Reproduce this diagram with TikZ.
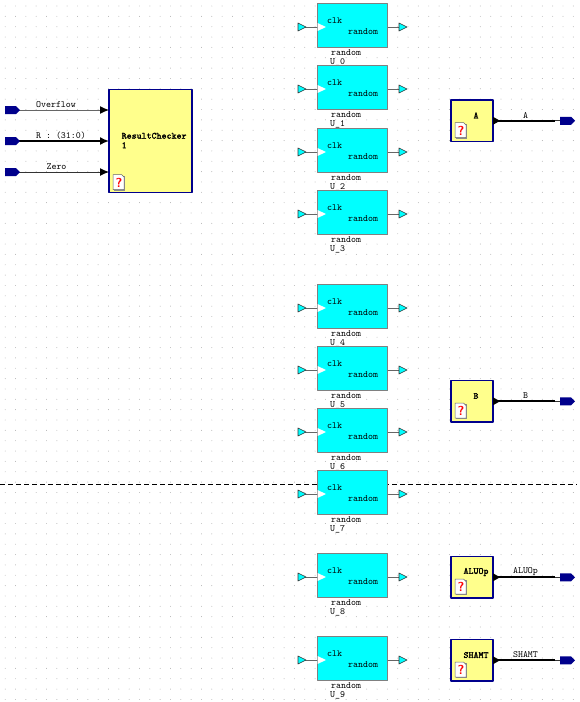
\documentclass[tikz,border=0pt]{standalone}
\usepackage{fontspec}
\newfontfamily\heavymono[FakeBold=1.6]{Latin Modern Mono}
\usetikzlibrary{positioning, arrows.meta}
\definecolor{randcyan}{RGB}{0,255,255}
\definecolor{checkyellow}{RGB}{255,255,140}
\definecolor{portblue}{RGB}{0,0,140}
\definecolor{griddot}{RGB}{175,175,175}
\tikzset{
	randbox/.style={draw=gray, line width=1pt, fill=randcyan, minimum width=70pt, minimum height=44pt, inner sep=0pt, outer sep=0pt},
	genbox/.style={draw=portblue, line width=1.2pt, fill=checkyellow, inner sep=0pt, outer sep=0pt},
	wirelabel/.style={font=\ttfamily\fontsize{9.5}{10}\selectfont, inner sep=0pt},
	boldlabel/.style={font=\heavymono\fontsize{9.5}{9.5}\selectfont, inner sep=0pt, align=left},
	pinwire/.style={black!60, line width=1pt},
	thinwire/.style={black!80, line width=0.9pt},
	buswire/.style={black, line width=1.6pt},
}
\newcommand{\cyanpin}[1]{\fill[randcyan, draw=black!80, line width=0.6pt] (#1) ++(-4,-4) -- ++(8,4) -- ++(-8,4) -- cycle;}
\newcommand{\bluepin}[1]{\fill[portblue] (#1) ++(-7,-4) -- ++(11,0) -- ++(4,4) -- ++(-4,4) -- ++(-11,0) -- cycle;}
\newcommand{\docicon}[1]{
	\fill[black!45] (#1) ++(-5,-7) -- ++(11,0) -- ++(0,15) -- ++(-11,0) -- cycle;
	\fill[white, draw=black!60, line width=0.5pt] (#1) ++(-6,-8) -- ++(8.5,0) -- ++(2.5,2.5) -- ++(0,12.5) -- ++(-11,0) -- cycle;
	\node[font=\sffamily\bfseries\fontsize{13}{13}\selectfont, text=red, inner sep=0pt] at (#1) {?};
}
\begin{document}
\begin{tikzpicture}[x=1pt, y=-1pt, >={Latex[length=9pt,width=8pt,black]}, line join=round]
	\useasboundingbox (0,0) rectangle (580,702);
	\fill[white] (0,0) rectangle (580,702);
	% dot grid
	\foreach \i in {0,...,55}
		\foreach \j in {0,...,67}
			\fill[griddot] (5.2+10.33*\i, 6+10.35*\j) circle (0.45pt);
	% dashed page break
	\draw[dashed, dash pattern=on 5pt off 3pt, line width=0.7pt] (0,484) -- (577,484);
	% random blocks
	\foreach \top/\idx in {3/0, 65/1, 128/2, 190/3, 284/4, 346/5, 408/6, 470/7, 553/8, 636/9} {
		\node[randbox, anchor=north west] (rand\idx) at (317.5,\top.5) {};
		\coordinate (clkin\idx) at (302,\top+24);
		\coordinate (clkport\idx) at (rand\idx.west |- clkin\idx);
		\coordinate (randport\idx) at (rand\idx.east |- clkin\idx);
		\coordinate (randout\idx) at (403,\top+24);
		\draw[pinwire] (clkin\idx) -- (clkport\idx);
		\draw[pinwire] (randport\idx) -- (randout\idx);
		\cyanpin{clkin\idx}
		\cyanpin{randout\idx}
		\fill[white] (clkport\idx) ++(0,-4) -- ++(8.5,4) -- ++(-8.5,4) -- cycle;
		\node[wirelabel, anchor=west] at (327,\top+17.5) {clk};
		\node[wirelabel, anchor=west] at (348,\top+28.5) {random};
		\node[wirelabel, anchor=west] at (331,\top+50) {random};
		\node[wirelabel, anchor=west] at (330,\top+59) {U\_\idx};
	}
	% checker block
	\node[genbox, minimum width=83pt, minimum height=103pt, anchor=north west] (checker) at (109,89.5) {};
	\node[boldlabel, anchor=west] at (121.5,140.5) {ResultChecker\\1};
	\docicon{119,182.5}
	\foreach \y/\name/\cx/\txt/\wire in {110/ovf/56/Overflow/pinwire, 141/res/61/{R : (31:0)}/buswire, 172/zero/56.5/Zero/thinwire} {
		\coordinate (\name in) at (12,\y);
		\coordinate (\name pin) at (checker.west |- \name in);
		\draw[\wire, ->] (\name in) -- (\name pin);
		\bluepin{\name in}
		\node[wirelabel] at (\cx,\y-5) {\txt};
	}
	% generator blocks
	\foreach \y/\name/\cap in {100/a/A, 380.5/b/B, 556.5/aluop/ALUOp, 639.5/shamt/SHAMT} {
		\node[genbox, minimum width=42pt, minimum height=41.5pt, anchor=north west] (\name) at (451,\y) {};
		\coordinate (\name out) at (\name.east);
		\coordinate (\name bend) at (\name out -| 555,0);
		\coordinate (\name port) at (\name out -| 567,0);
		\draw[buswire] (\name out) -- (\name bend);
		\draw[thinwire] (\name bend) -- (\name port);
		\fill[black] (\name out) ++(0,-4) -- ++(7,4) -- ++(-7,4) -- cycle;
		\bluepin{\name port}
		\node[boldlabel, anchor=center] at (476,\y+15.5) {\cap};
		\node[wirelabel] at (525.5,\y+15.5) {\cap};
		\docicon{461,\y+30.5}
	}
\end{tikzpicture}
\end{document}
